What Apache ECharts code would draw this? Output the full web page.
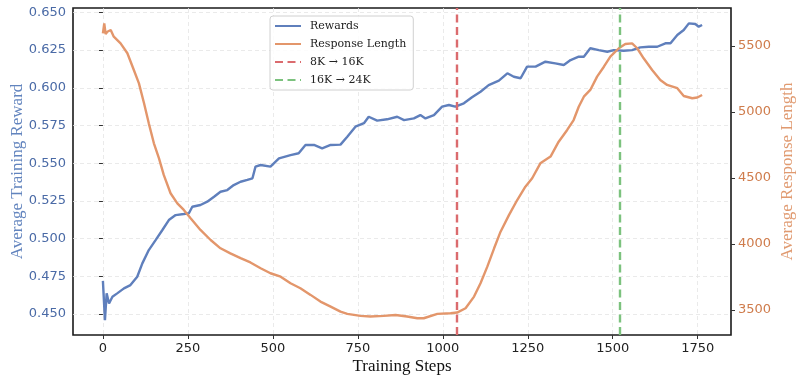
<!DOCTYPE html>
<html>
<head>
<meta charset="utf-8">
<script src="https://cdn.jsdelivr.net/npm/echarts@6/dist/echarts.min.js"></script>
<style>html,body{margin:0;padding:0;background:#fff}#c{width:800px;height:382px}</style>
</head>
<body>
<div id="c"></div>
<script>
const xTicks = [0, 250, 500, 750, 1000, 1250, 1500, 1750];
const rewardTicks = [0.450, 0.475, 0.500, 0.525, 0.550, 0.575, 0.600, 0.625, 0.650];
const lengthTicks = [3500, 4000, 4500, 5000, 5500];

const rewardSteps = [0,3,6,11,18,28,42,62,81,101,116,135,155,175,194,214,238,253,263,287,307,327,346,366,385,405,425,440,449,464,493,518,552,576,596,621,645,670,699,719,743,768,782,807,836,866,886,915,934,949,974,998,1018,1037,1062,1086,1111,1135,1165,1190,1209,1229,1248,1273,1302,1331,1356,1376,1400,1415,1434,1459,1484,1503,1532,1557,1581,1606,1631,1655,1670,1690,1709,1724,1743,1753,1763];
const rewardValues = [0.472,0.473,0.446,0.4637,0.457,0.4615,0.4637,0.467,0.4692,0.4747,0.4836,0.4924,0.499,0.5057,0.5123,0.5156,0.5163,0.5168,0.5211,0.5223,0.5245,0.5278,0.5311,0.5322,0.5355,0.5377,0.5389,0.540,0.5477,0.5488,0.5477,0.5532,0.5554,0.5566,0.5621,0.5621,0.5599,0.5621,0.5623,0.5676,0.5742,0.5765,0.5808,0.5782,0.5791,0.5808,0.5786,0.5797,0.5819,0.5797,0.5819,0.5875,0.5886,0.5875,0.5897,0.5937,0.5974,0.6018,0.6047,0.6096,0.6073,0.6063,0.614,0.614,0.6173,0.6162,0.6151,0.6184,0.6206,0.6206,0.6262,0.625,0.6239,0.625,0.6246,0.625,0.6268,0.6272,0.6272,0.6295,0.6295,0.635,0.6383,0.6427,0.6423,0.6405,0.6416];

const lengthSteps = [0,4,8,13,23,32,52,72,91,106,121,135,150,165,179,199,219,238,258,287,317,346,375,405,434,464,493,523,552,581,611,640,670,699,719,758,787,826,861,895,925,944,984,1023,1042,1067,1092,1111,1131,1151,1170,1195,1219,1243,1263,1287,1317,1341,1366,1385,1400,1415,1434,1454,1474,1493,1518,1537,1557,1572,1591,1616,1640,1660,1690,1709,1734,1749,1763];
const lengthValues = [5596,5672,5590,5608,5621,5571,5520,5445,5318,5217,5066,4914,4763,4649,4523,4384,4308,4258,4195,4106,4030,3967,3929,3892,3860,3816,3778,3752,3702,3664,3614,3563,3525,3487,3470,3455,3450,3455,3462,3450,3437,3437,3470,3475,3480,3513,3601,3702,3828,3967,4093,4220,4333,4434,4498,4611,4662,4775,4864,4939,5040,5116,5167,5268,5343,5419,5483,5515,5520,5483,5407,5318,5242,5205,5180,5121,5104,5110,5129];

const transitionNames = ['8K \u2192 16K', '16K \u2192 24K'];
const transitionSteps = [1040, 1520];

const pair = (xs, ys) => xs.map((x, i) => [x, ys[i]]);
const serif = "'Liberation Serif', 'Times New Roman', serif";
const sans = "'DejaVu Sans', sans-serif";

const chart = echarts.init(document.getElementById('c'), null, {renderer: 'canvas'});
const vColors = ['#db6b6e', '#7cc27e'];

chart.setOption({
  animation: false,
  backgroundColor: '#fff',
  grid: {left: 73, right: 69, top: 8, bottom: 47, outerBoundsMode: 'none', containLabel: false,
    show: true, borderColor: '#1a1a1a', borderWidth: 1.6, backgroundColor: 'transparent'},
  legend: {
    orient: 'vertical', left: 270, top: 16,
    padding: [3, 7, 3, 4],
    itemWidth: 26, itemHeight: 14, itemGap: 4,
    itemStyle: {opacity: 0},
    backgroundColor: 'rgba(255,255,255,0.85)', borderColor: '#d0d0d0', borderWidth: 1, borderRadius: 3,
    textStyle: {fontFamily: "'DejaVu Serif', serif", fontSize: 11, color: '#222', padding: [0, 0, 0, 4], lineHeight: 14},
    data: ['Rewards', 'Response Length', transitionNames[0], transitionNames[1]]
  },
  xAxis: {
    type: 'value', min: -88, max: 1848,
    name: 'Training Steps', nameLocation: 'middle', nameGap: 23, nameMoveOverlap: false,
    nameTextStyle: {fontFamily: serif, fontSize: 17, color: '#111'},
    axisLine: {show: false},
    axisTick: {show: true, length: 4, lineStyle: {color: '#333'}, customValues: xTicks},
    axisLabel: {fontFamily: sans, fontSize: 13, color: '#222', margin: 7, customValues: xTicks,
      formatter: v => String(v)},
    splitLine: {show: true, lineStyle: {color: '#e4e4e4', type: [4, 3], width: 0.8}}
  },
  yAxis: [
    {
      type: 'value', min: 0.4361, max: 0.6529, position: 'left',
      name: 'Average Training Reward', nameLocation: 'middle', nameGap: 47, nameRotate: 90, nameMoveOverlap: false,
      nameTextStyle: {fontFamily: serif, fontSize: 17, color: '#6284be'},
      axisLine: {show: false},
      axisTick: {show: true, length: 4, lineStyle: {color: '#333'}, customValues: rewardTicks},
      axisLabel: {fontFamily: sans, fontSize: 13, color: '#4a6aa6', margin: 7, customValues: rewardTicks,
        formatter: v => v.toFixed(3)},
      splitLine: {show: true, lineStyle: {color: '#e4e4e4', type: [4, 3], width: 0.8}}
    },
    {
      type: 'value', min: 3310, max: 5788, position: 'right',
      name: 'Average Response Length', nameLocation: 'middle', nameGap: 48, nameRotate: 90, nameMoveOverlap: false,
      nameTextStyle: {fontFamily: serif, fontSize: 17, color: '#e09a70'},
      axisLine: {show: false},
      axisTick: {show: true, length: 4, lineStyle: {color: '#333'}, customValues: lengthTicks},
      axisLabel: {fontFamily: sans, fontSize: 13, color: '#cf7c4c', margin: 7, customValues: lengthTicks,
        formatter: v => String(v)},
      splitLine: {show: false}
    }
  ],
  series: [
    {
      name: 'Rewards', type: 'line', yAxisIndex: 0, symbol: 'none', smooth: false,
      color: '#5f7fbc',
      lineStyle: {color: '#5f7fbc', width: 2.4},
      data: pair(rewardSteps, rewardValues), z: 3
    },
    {
      name: 'Response Length', type: 'line', yAxisIndex: 1, symbol: 'none', smooth: false,
      color: '#e3966b',
      lineStyle: {color: '#e3966b', width: 2.4},
      data: pair(lengthSteps, lengthValues), z: 4
    },
    ...transitionNames.map((n, i) => ({
      name: n, type: 'line', yAxisIndex: 0, symbol: 'none',
      color: vColors[i],
      lineStyle: {color: vColors[i], width: 2.4, type: [8, 4.5]},
      data: [],
      z: 5,
      markLine: {
        silent: true, symbol: 'none', label: {show: false},
        lineStyle: {color: vColors[i], width: 2.4, type: [8, 4.5]},
        data: [{xAxis: transitionSteps[i]}]
      }
    }))
  ]
});
</script>
</body>
</html>
